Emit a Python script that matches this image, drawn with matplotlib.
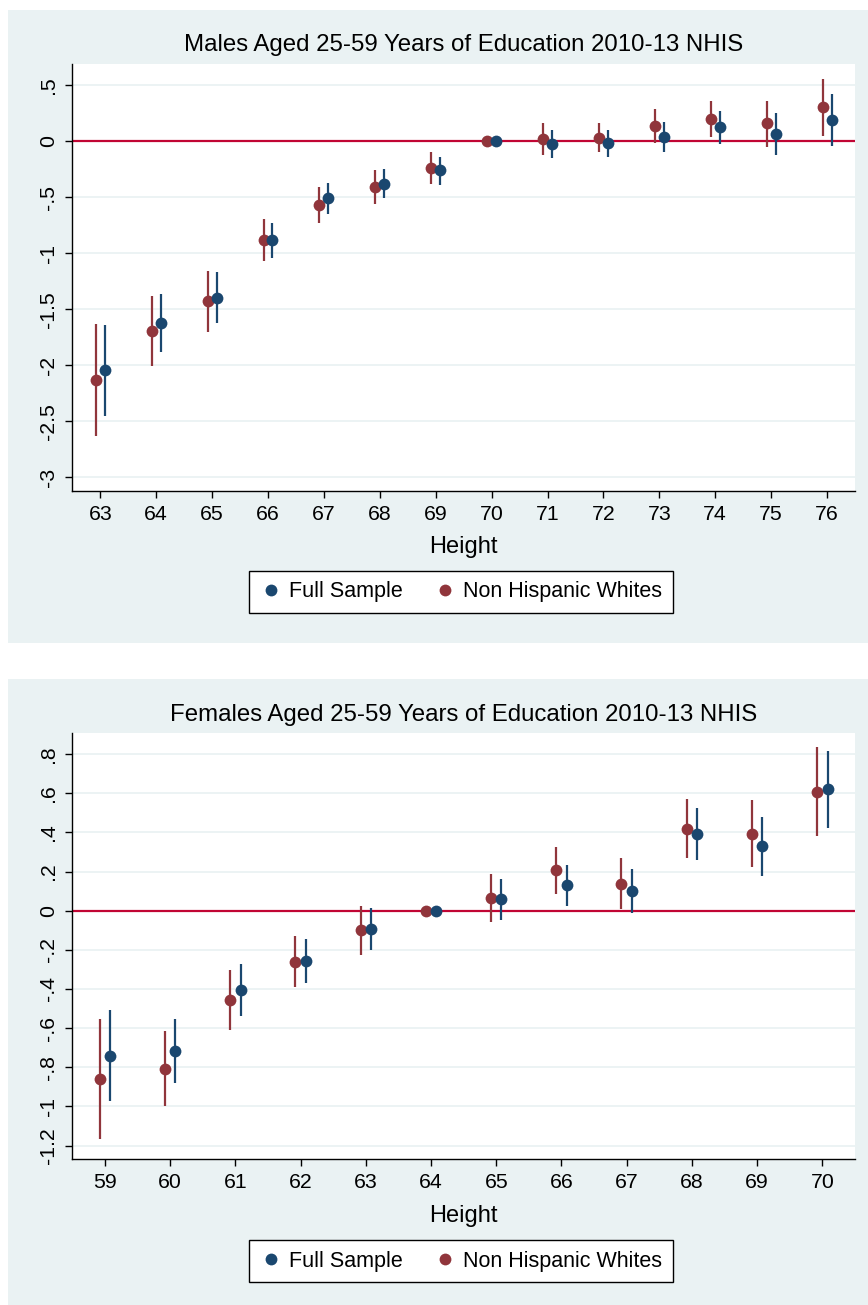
import numpy as np
import matplotlib
matplotlib.use('Agg')
import matplotlib.pyplot as plt
from matplotlib.patches import Rectangle
from matplotlib.lines import Line2D

plt.rcParams['font.family'] = ['Liberation Sans', 'DejaVu Sans']

# males, heights 63-76 (70 = reference)
m_height = np.arange(63, 77)
m_full = [-2.045, -1.62, -1.40, -0.88, -0.51, -0.38, -0.26, 0.0, -0.024, -0.018, 0.042, 0.125, 0.068, 0.19]
m_full_lo = [-2.45, -1.88, -1.62, -1.04, -0.65, -0.51, -0.39, np.nan, -0.146, -0.14, -0.095, -0.024, -0.12, -0.04]
m_full_hi = [-1.64, -1.36, -1.17, -0.73, -0.37, -0.25, -0.14, np.nan, 0.10, 0.10, 0.176, 0.27, 0.25, 0.42]
m_nhw = [-2.13, -1.69, -1.43, -0.88, -0.57, -0.41, -0.24, 0.0, 0.018, 0.03, 0.14, 0.20, 0.16, 0.306]
m_nhw_lo = [-2.63, -2.01, -1.70, -1.065, -0.73, -0.56, -0.38, np.nan, -0.12, -0.10, -0.015, 0.036, -0.048, 0.05]
m_nhw_hi = [-1.63, -1.38, -1.16, -0.69, -0.41, -0.26, -0.10, np.nan, 0.16, 0.16, 0.29, 0.36, 0.36, 0.556]

# females, heights 59-70 (64 = reference)
f_height = np.arange(59, 71)
f_full = [-0.74, -0.717, -0.405, -0.255, -0.093, 0.0, 0.058, 0.131, 0.10, 0.393, 0.329, 0.62]
f_full_lo = [-0.97, -0.878, -0.536, -0.368, -0.202, np.nan, -0.049, 0.024, -0.01, 0.259, 0.177, 0.422]
f_full_hi = [-0.507, -0.555, -0.274, -0.143, 0.014, np.nan, 0.162, 0.235, 0.211, 0.526, 0.479, 0.816]
f_nhw = [-0.861, -0.807, -0.456, -0.26, -0.10, 0.0, 0.065, 0.206, 0.138, 0.419, 0.393, 0.608]
f_nhw_lo = [-1.167, -1.0, -0.609, -0.39, -0.226, np.nan, -0.056, 0.087, 0.007, 0.267, 0.223, 0.38]
f_nhw_hi = [-0.555, -0.614, -0.303, -0.131, 0.024, np.nan, 0.187, 0.327, 0.267, 0.57, 0.565, 0.834]

m_yticks = [0.5, 0, -0.5, -1, -1.5, -2, -2.5, -3]
m_ylabels = ['.5', '0', '-.5', '-1', '-1.5', '-2', '-2.5', '-3']
f_yticks = [0.8, 0.6, 0.4, 0.2, 0, -0.2, -0.4, -0.6, -0.8, -1, -1.2]
f_ylabels = ['.8', '.6', '.4', '.2', '0', '-.2', '-.4', '-.6', '-.8', '-1', '-1.2']

blue = '#1a476f'
red = '#90353b'
bg = '#eaf2f3'
zero_col = '#c10534'

W, H = 868, 1305
fig = plt.figure(figsize=(W / 100, H / 100), dpi=100)

def px(x0, y0, x1, y1):
    # pixel box (top-left origin) -> figure fraction rect
    return [x0 / W, 1 - y1 / H, (x1 - x0) / W, (y1 - y0) / H]

fig.patches.append(Rectangle((8 / W, 1 - 643 / H), 860 / W, 633 / H, transform=fig.transFigure,
                             facecolor=bg, edgecolor='none', zorder=-5))
fig.patches.append(Rectangle((8 / W, 0), 860 / W, (H - 679) / H, transform=fig.transFigure,
                             facecolor=bg, edgecolor='none', zorder=-5))

def panel(rect, x, full, flo, fhi, nhw, nlo, nhi, xlim, ylim, yt, yl, title, title_y, xlab_y, leg_y):
    ax = fig.add_axes(rect)
    ax.set_facecolor('white')
    x = np.asarray(x, dtype=float)
    d = 0.08
    ax.axhline(0, color=zero_col, lw=1.6, zorder=1)
    ax.vlines(x - d, nlo, nhi, color=red, lw=1.6, zorder=2)
    ax.vlines(x + d, flo, fhi, color=blue, lw=1.6, zorder=2)
    ax.plot(x - d, nhw, 'o', color=red, ms=8.5, mew=0, zorder=3)
    ax.plot(x + d, full, 'o', color=blue, ms=8.5, mew=0, zorder=3)
    ax.set_xlim(*xlim)
    ax.set_ylim(*ylim)
    ax.set_xticks(x)
    ax.set_xticklabels([str(int(v)) for v in x])
    ax.set_yticks(yt)
    ax.set_yticklabels(yl, rotation=90, va='center')
    ax.grid(axis='y', color=bg, lw=1.3, zorder=0)
    ax.set_axisbelow(True)
    for s in ['top', 'right']:
        ax.spines[s].set_visible(False)
    for s in ['left', 'bottom']:
        ax.spines[s].set_linewidth(1.0)
    ax.tick_params(length=5, width=1, labelsize=15.3, pad=5)
    cx = (rect[0] + rect[2] / 2)
    fig.text(cx, 1 - title_y / H, title, ha='center', va='center', fontsize=17.3)
    fig.text(cx, 1 - xlab_y / H, 'Height', ha='center', va='center', fontsize=17)
    handles = [Line2D([], [], ls='none', marker='o', color=blue, ms=8.5, mew=0),
               Line2D([], [], ls='none', marker='o', color=red, ms=8.5, mew=0)]
    leg = fig.legend(handles, ['Full Sample', 'Non Hispanic Whites'], loc='center',
                     bbox_to_anchor=(461 / W, 1 - leg_y / H), ncol=2, fontsize=15.5,
                     frameon=True, fancybox=False, edgecolor='black', framealpha=1,
                     handletextpad=0.35, columnspacing=1.45, borderpad=0.5, handlelength=1.0)
    leg.get_frame().set_linewidth(1.0)
    return ax

panel(px(72.3, 64, 855, 490.7), m_height, m_full, m_full_lo, m_full_hi,
      m_nhw, m_nhw_lo, m_nhw_hi, (62.5, 76.5), (-3.12, 0.69), m_yticks, m_ylabels,
      'Males Aged 25-59 Years of Education 2010-13 NHIS', 45, 547, 592)
panel(px(72.3, 733.3, 855, 1159.3), f_height, f_full, f_full_lo, f_full_hi,
      f_nhw, f_nhw_lo, f_nhw_hi, (58.5, 70.5), (-1.27, 0.906), f_yticks, f_ylabels,
      'Females Aged 25-59 Years of Education 2010-13 NHIS', 715, 1216, 1261)

fig.savefig('out.png', dpi=100, facecolor='white')
